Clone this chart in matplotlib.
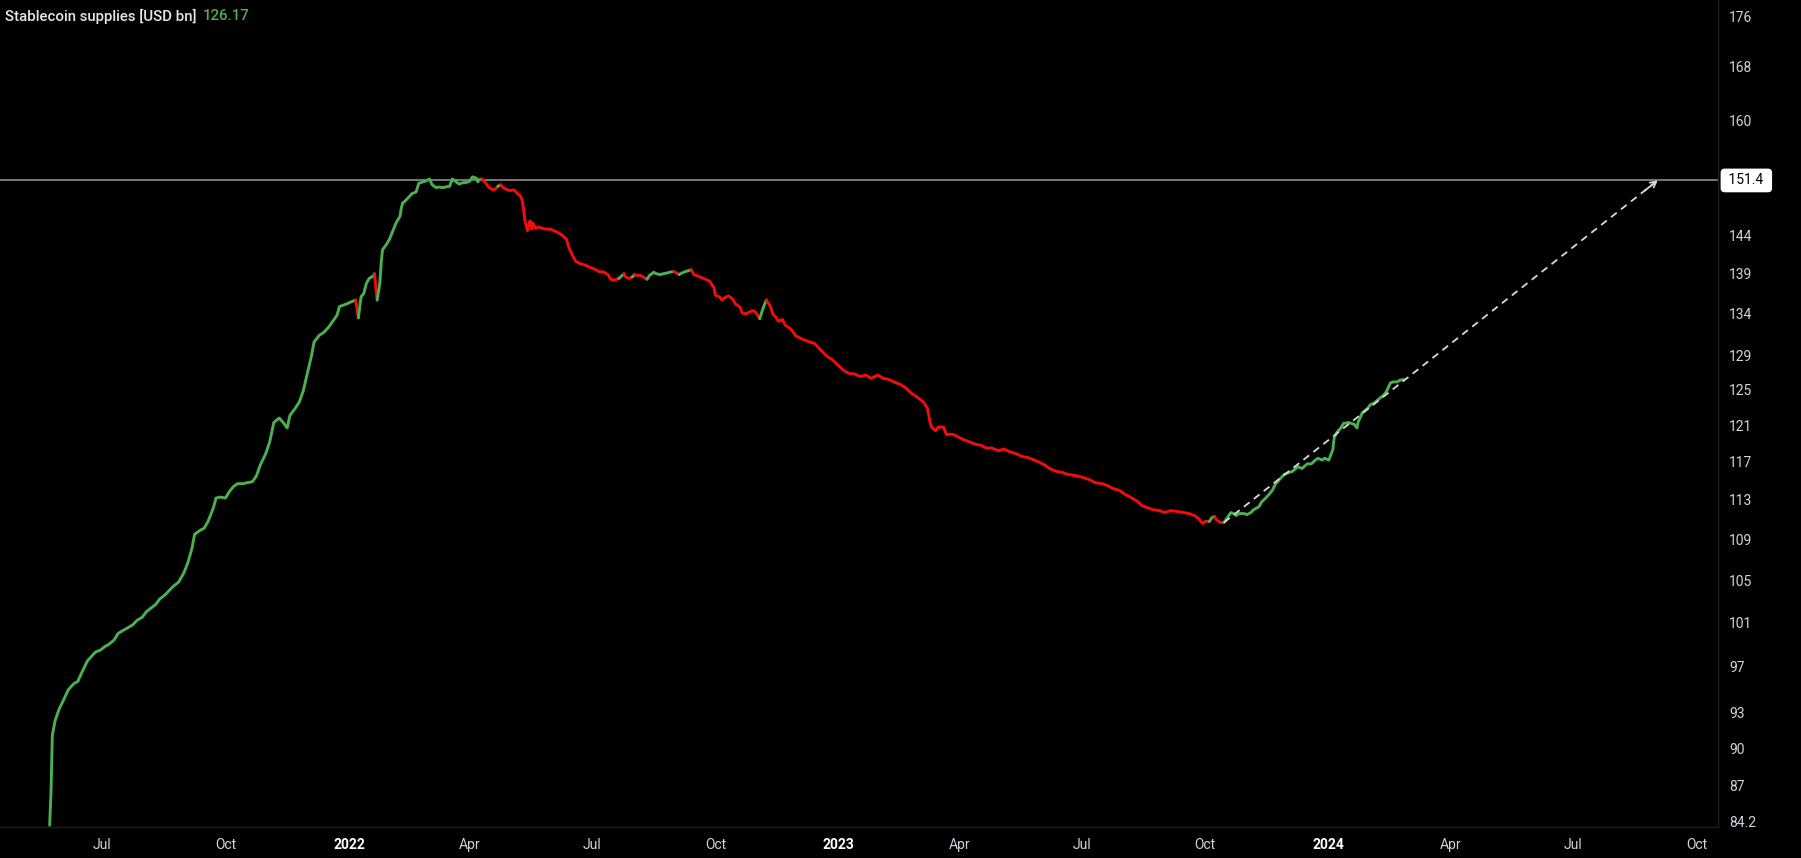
import numpy as np
import pandas as pd
import matplotlib
matplotlib.use("Agg")
import matplotlib.pyplot as plt
import matplotlib.transforms as mtransforms

# traced series (USD bn)
dates = [
    "2021-05-23", "2021-05-24", "2021-05-25", "2021-05-27", "2021-05-30", "2021-06-02",
    "2021-06-06", "2021-06-10", "2021-06-13", "2021-06-16", "2021-06-20", "2021-06-23",
    "2021-06-26", "2021-06-30", "2021-07-03", "2021-07-06", "2021-07-10", "2021-07-13",
    "2021-07-17", "2021-07-20", "2021-07-24", "2021-07-27", "2021-07-31", "2021-08-03",
    "2021-08-06", "2021-08-10", "2021-08-13", "2021-08-17", "2021-08-20", "2021-08-23",
    "2021-08-27", "2021-08-31", "2021-09-03", "2021-09-06", "2021-09-08", "2021-09-12",
    "2021-09-15", "2021-09-18", "2021-09-22", "2021-09-24", "2021-09-27", "2021-10-01",
    "2021-10-04", "2021-10-07", "2021-10-10", "2021-10-14", "2021-10-17", "2021-10-21",
    "2021-10-24", "2021-10-27", "2021-10-31", "2021-11-03", "2021-11-06", "2021-11-10",
    "2021-11-13", "2021-11-16", "2021-11-18", "2021-11-22", "2021-11-25", "2021-11-28",
    "2021-12-01", "2021-12-04", "2021-12-06", "2021-12-10", "2021-12-13", "2021-12-17",
    "2021-12-20", "2021-12-23", "2021-12-25", "2021-12-30", "2022-01-03", "2022-01-06",
    "2022-01-08", "2022-01-10", "2022-01-12", "2022-01-14", "2022-01-16", "2022-01-19",
    "2022-01-20", "2022-01-22", "2022-01-24", "2022-01-25", "2022-01-26", "2022-01-29",
    "2022-01-31", "2022-02-03", "2022-02-05", "2022-02-08", "2022-02-09", "2022-02-10",
    "2022-02-12", "2022-02-15", "2022-02-17", "2022-02-20", "2022-02-22", "2022-02-25",
    "2022-02-27", "2022-03-02", "2022-03-04", "2022-03-07", "2022-03-09", "2022-03-12",
    "2022-03-14", "2022-03-17", "2022-03-19", "2022-03-22", "2022-03-24", "2022-03-27",
    "2022-03-29", "2022-04-01", "2022-04-03", "2022-04-06", "2022-04-07", "2022-04-08",
    "2022-04-10", "2022-04-13", "2022-04-15", "2022-04-18", "2022-04-20", "2022-04-22",
    "2022-04-24", "2022-04-26", "2022-04-29", "2022-05-01", "2022-05-04", "2022-05-06",
    "2022-05-09", "2022-05-10", "2022-05-11", "2022-05-12", "2022-05-14", "2022-05-15",
    "2022-05-16", "2022-05-17", "2022-05-18", "2022-05-20", "2022-05-22", "2022-05-27",
    "2022-05-31", "2022-06-04", "2022-06-08", "2022-06-12", "2022-06-14", "2022-06-17",
    "2022-06-19", "2022-06-22", "2022-06-26", "2022-06-30", "2022-07-03", "2022-07-06",
    "2022-07-10", "2022-07-13", "2022-07-15", "2022-07-18", "2022-07-21", "2022-07-25",
    "2022-07-26", "2022-07-29", "2022-07-31", "2022-08-02", "2022-08-03", "2022-08-06",
    "2022-08-08", "2022-08-11", "2022-08-13", "2022-08-16", "2022-08-18", "2022-08-21",
    "2022-08-23", "2022-08-26", "2022-08-28", "2022-08-31", "2022-09-02", "2022-09-04",
    "2022-09-06", "2022-09-09", "2022-09-13", "2022-09-15", "2022-09-18", "2022-09-21",
    "2022-09-25", "2022-09-27", "2022-09-30", "2022-10-01", "2022-10-04", "2022-10-06",
    "2022-10-09", "2022-10-11", "2022-10-14", "2022-10-16", "2022-10-19", "2022-10-21",
    "2022-10-24", "2022-10-26", "2022-10-29", "2022-10-31", "2022-11-03", "2022-11-04",
    "2022-11-06", "2022-11-08", "2022-11-11", "2022-11-13", "2022-11-15", "2022-11-17",
    "2022-11-20", "2022-11-22", "2022-11-25", "2022-11-27", "2022-11-30", "2022-12-05",
    "2022-12-10", "2022-12-14", "2022-12-18", "2022-12-23", "2022-12-27", "2022-12-31",
    "2023-01-04", "2023-01-08", "2023-01-13", "2023-01-17", "2023-01-21", "2023-01-25",
    "2023-01-30", "2023-02-03", "2023-02-07", "2023-02-11", "2023-02-16", "2023-02-20",
    "2023-02-24", "2023-02-28", "2023-03-05", "2023-03-08", "2023-03-10", "2023-03-11",
    "2023-03-14", "2023-03-16", "2023-03-20", "2023-03-22", "2023-03-27", "2023-03-31",
    "2023-04-04", "2023-04-08", "2023-04-13", "2023-04-17", "2023-04-21", "2023-04-25",
    "2023-04-30", "2023-05-04", "2023-05-08", "2023-05-13", "2023-05-17", "2023-05-21",
    "2023-05-25", "2023-05-30", "2023-06-03", "2023-06-07", "2023-06-12", "2023-06-16",
    "2023-06-20", "2023-06-24", "2023-06-28", "2023-07-03", "2023-07-07", "2023-07-11",
    "2023-07-16", "2023-07-20", "2023-07-24", "2023-07-29", "2023-08-02", "2023-08-06",
    "2023-08-11", "2023-08-15", "2023-08-19", "2023-08-23", "2023-08-28", "2023-09-01",
    "2023-09-05", "2023-09-11", "2023-09-15", "2023-09-19", "2023-09-23", "2023-09-26",
    "2023-09-29", "2023-10-01", "2023-10-04", "2023-10-06", "2023-10-08", "2023-10-09",
    "2023-10-12", "2023-10-15", "2023-10-17", "2023-10-20", "2023-10-22", "2023-10-24",
    "2023-10-26", "2023-10-30", "2023-11-01", "2023-11-04", "2023-11-06", "2023-11-10",
    "2023-11-12", "2023-11-15", "2023-11-17", "2023-11-20", "2023-11-22", "2023-11-25",
    "2023-11-29", "2023-12-05", "2023-12-09", "2023-12-12", "2023-12-16", "2023-12-19",
    "2023-12-22", "2023-12-24", "2023-12-27", "2023-12-29", "2024-01-01", "2024-01-04",
    "2024-01-05", "2024-01-07", "2024-01-10", "2024-01-12", "2024-01-16", "2024-01-20",
    "2024-01-22", "2024-01-23", "2024-01-26", "2024-01-30", "2024-02-01", "2024-02-04",
    "2024-02-07", "2024-02-11", "2024-02-13", "2024-02-16", "2024-02-18", "2024-02-21",
    "2024-02-23", "2024-02-26",
]
supply = [
    83.9, 86.5, 91.1, 92.3, 93.3, 94.0,
    95.0, 95.5, 95.7, 96.5, 97.5, 97.9,
    98.3, 98.5, 98.8, 99.0, 99.4, 100.0,
    100.3, 100.5, 100.8, 101.2, 101.5, 102.0,
    102.3, 102.7, 103.2, 103.6, 104.0, 104.4,
    104.8, 105.7, 106.7, 108.1, 109.5, 109.9,
    110.1, 110.8, 112.2, 113.2, 113.3, 113.2,
    113.9, 114.4, 114.7, 114.7, 114.8, 114.9,
    115.5, 116.7, 117.9, 119.2, 121.3, 121.8,
    121.3, 120.7, 122.1, 122.9, 123.6, 124.9,
    126.9, 128.9, 130.6, 131.4, 131.7, 132.4,
    133.1, 133.8, 134.9, 135.2, 135.5, 135.7,
    133.5, 136.1, 136.5, 137.8, 138.4, 138.7,
    139.0, 135.7, 137.8, 140.4, 142.1, 142.8,
    143.4, 144.7, 145.6, 146.5, 147.6, 148.3,
    148.6, 149.2, 149.6, 149.8, 151.0, 151.2,
    151.3, 151.6, 150.8, 150.4, 150.5, 150.4,
    150.5, 150.6, 151.6, 151.2, 150.9, 151.1,
    151.1, 151.3, 151.9, 151.7, 151.2, 151.5,
    151.6, 151.0, 150.5, 150.1, 150.2, 150.6,
    150.8, 150.4, 150.1, 150.0, 150.1, 149.7,
    149.2, 148.7, 147.6, 146.0, 144.6, 145.5,
    145.9, 144.8, 145.6, 144.9, 145.1, 144.8,
    144.8, 144.5, 144.1, 143.5, 142.3, 141.2,
    140.6, 140.3, 140.1, 139.8, 139.6, 139.3,
    139.2, 138.9, 138.3, 138.2, 138.4, 139.0,
    138.6, 138.4, 138.6, 138.9, 138.8, 138.8,
    138.6, 138.3, 138.8, 139.2, 139.0, 138.9,
    139.0, 139.1, 139.2, 139.3, 139.1, 138.9,
    139.1, 139.3, 139.5, 138.9, 138.7, 138.5,
    138.2, 138.0, 137.2, 136.3, 136.1, 135.7,
    136.1, 136.2, 135.8, 135.2, 134.9, 134.1,
    134.0, 134.2, 134.4, 134.2, 133.4, 133.9,
    134.9, 135.7, 134.9, 133.9, 133.6, 133.1,
    133.3, 132.6, 132.3, 132.0, 131.3, 130.9,
    130.6, 130.4, 129.7, 128.9, 128.5, 127.9,
    127.3, 126.9, 126.8, 126.5, 126.7, 126.3,
    126.7, 126.3, 126.2, 125.9, 125.6, 125.2,
    124.6, 124.2, 123.6, 122.9, 121.3, 120.8,
    120.4, 120.8, 120.8, 120.0, 120.0, 119.7,
    119.4, 119.2, 118.9, 118.8, 118.5, 118.5,
    118.2, 118.4, 118.1, 117.9, 117.6, 117.5,
    117.3, 117.0, 116.7, 116.3, 116.0, 115.9,
    115.7, 115.6, 115.5, 115.3, 115.1, 114.8,
    114.7, 114.5, 114.2, 114.0, 113.6, 113.3,
    112.9, 112.4, 112.2, 112.0, 111.9, 111.7,
    111.9, 111.8, 111.7, 111.6, 111.4, 111.1,
    110.6, 110.8, 110.8, 111.2, 111.3, 111.0,
    110.7, 110.7, 111.1, 111.7, 111.6, 111.4,
    111.6, 111.6, 111.5, 111.7, 112.0, 112.3,
    112.8, 113.2, 113.5, 114.0, 114.6, 115.1,
    115.7, 116.0, 116.5, 116.3, 116.8, 116.8,
    117.2, 117.4, 117.2, 117.4, 117.2, 118.3,
    119.6, 120.2, 120.7, 121.2, 121.3, 121.1,
    120.7, 121.4, 122.4, 122.9, 123.3, 123.5,
    123.9, 124.4, 124.8, 125.8, 125.9, 125.9,
    126.1, 126.17,
]

# periods where the trend is down (drawn red)
falling = [
    ("2022-01-06", "2022-01-08"), ("2022-01-20", "2022-01-22"),
    ("2022-04-10", "2022-04-22"), ("2022-04-24", "2022-07-21"),
    ("2022-07-25", "2022-07-31"), ("2022-08-02", "2022-08-11"),
    ("2022-08-31", "2022-09-04"), ("2022-09-13", "2022-11-03"),
    ("2022-11-08", "2023-10-04"), ("2023-10-08", "2023-10-15"),
]

level = 151.4
proj_dates = ["2023-10-15", "2024-09-02"]
proj_vals = [110.7, 151.4]

ytick_vals = [84.2, 87, 90, 93, 97, 101, 105, 109, 113, 117, 121, 125, 129,
              134, 139, 144, 160, 168, 176]
xtick_dates = ["2021-07-01", "2021-10-01", "2022-01-01", "2022-04-01", "2022-07-01",
               "2022-10-01", "2023-01-01", "2023-04-01", "2023-07-01", "2023-10-01",
               "2024-01-01", "2024-04-01", "2024-07-01", "2024-10-01"]
xtick_labels = ["Jul", "Oct", "2022", "Apr", "Jul", "Oct", "2023", "Apr", "Jul", "Oct",
                "2024", "Apr", "Jul", "Oct"]

GREEN = "#4caf50"
RED = "#f20d0d"
TXT = "#d1d4dc"
plt.rcParams["font.family"] = ["Roboto", "DejaVu Sans"]

W, H = 1801, 858
fig = plt.figure(figsize=(W / 100, H / 100), dpi=100, facecolor="black")
ax = fig.add_axes([0, 1 - 827 / H, 1718 / W, 827 / H])
ax.set_facecolor("black")

t = pd.to_datetime(dates)
v = np.array(supply)
mid = t[:-1] + (t[1:] - t[:-1]) / 2
red = np.zeros(len(mid), dtype=bool)
for a, b in falling:
    red |= (mid >= pd.Timestamp(a)) & (mid <= pd.Timestamp(b))

# draw runs of same colour
i0 = 0
for i in range(1, len(red) + 1):
    if i == len(red) or red[i] != red[i0]:
        ax.plot(t[i0:i + 1], v[i0:i + 1], color=RED if red[i0] else GREEN,
                lw=2.1, solid_capstyle="round", solid_joinstyle="round", zorder=3)
        i0 = i

ax.axhline(level, color="#8a8d96", lw=1.2, zorder=2)

pd_ = pd.to_datetime(proj_dates)
ax.plot(pd_, proj_vals, color="#d9d9d9", lw=1.3, ls=(0, (4, 3)), zorder=4)
# arrow head at the end of the projection
tail_t = pd_[1] - (pd_[1] - pd_[0]) * 0.03
tail_v = np.exp(np.log(proj_vals[1]) - (np.log(proj_vals[1]) - np.log(proj_vals[0])) * 0.03)
ax.annotate("", xy=(pd_[1], proj_vals[1]), xytext=(tail_t, tail_v),
            arrowprops=dict(arrowstyle="->,head_length=0.4,head_width=0.22",
                            color="#d9d9d9", lw=1.3, shrinkA=0, shrinkB=0), zorder=4)

ax.set_yscale("log")
ax.set_ylim(83.76, 178.6)
ax.set_xlim(pd.Timestamp("2021-04-16"), pd.Timestamp("2024-10-17"))

ax.yaxis.tick_right()
ax.set_yticks(ytick_vals)
ax.set_yticks([], minor=True)
ax.set_yticklabels([f"{y:g}" for y in ytick_vals])
ax.tick_params(axis="y", length=0, pad=8, labelsize=10, colors=TXT)
for lab in ax.get_yticklabels():
    lab.set_horizontalalignment("left")

ax.set_xticks(pd.to_datetime(xtick_dates))
ax.set_xticks([], minor=True)
ax.set_xticklabels(xtick_labels)
ax.tick_params(axis="x", length=0, pad=8, labelsize=10, colors=TXT)
for lab in ax.get_xticklabels():
    if lab.get_text().isdigit():
        lab.set_fontweight("bold")
        lab.set_color("white")

for s in ["top", "left"]:
    ax.spines[s].set_visible(False)
for s in ["right", "bottom"]:
    ax.spines[s].set_color("#1c1c1c")
    ax.spines[s].set_linewidth(1)

trans = mtransforms.blended_transform_factory(ax.transAxes, ax.transData)
ax.text(1.0165, level, " 151.4 ", transform=trans, ha="center", va="center",
        fontsize=10, color="black", clip_on=False, zorder=6,
        bbox=dict(boxstyle="round,pad=0.3,rounding_size=0.25", fc="white", ec="white"))

fig.text(5 / W, 1 - 16 / H, "Stablecoin supplies [USD bn]", color="#e6e6e6",
         fontsize=10.8, fontweight="medium", va="center", ha="left")
fig.text(203 / W, 1 - 16 / H, "126.17", color=GREEN, fontsize=10.8,
         fontweight="medium", va="center", ha="left")

fig.savefig("out.png", dpi=100, facecolor="black")
